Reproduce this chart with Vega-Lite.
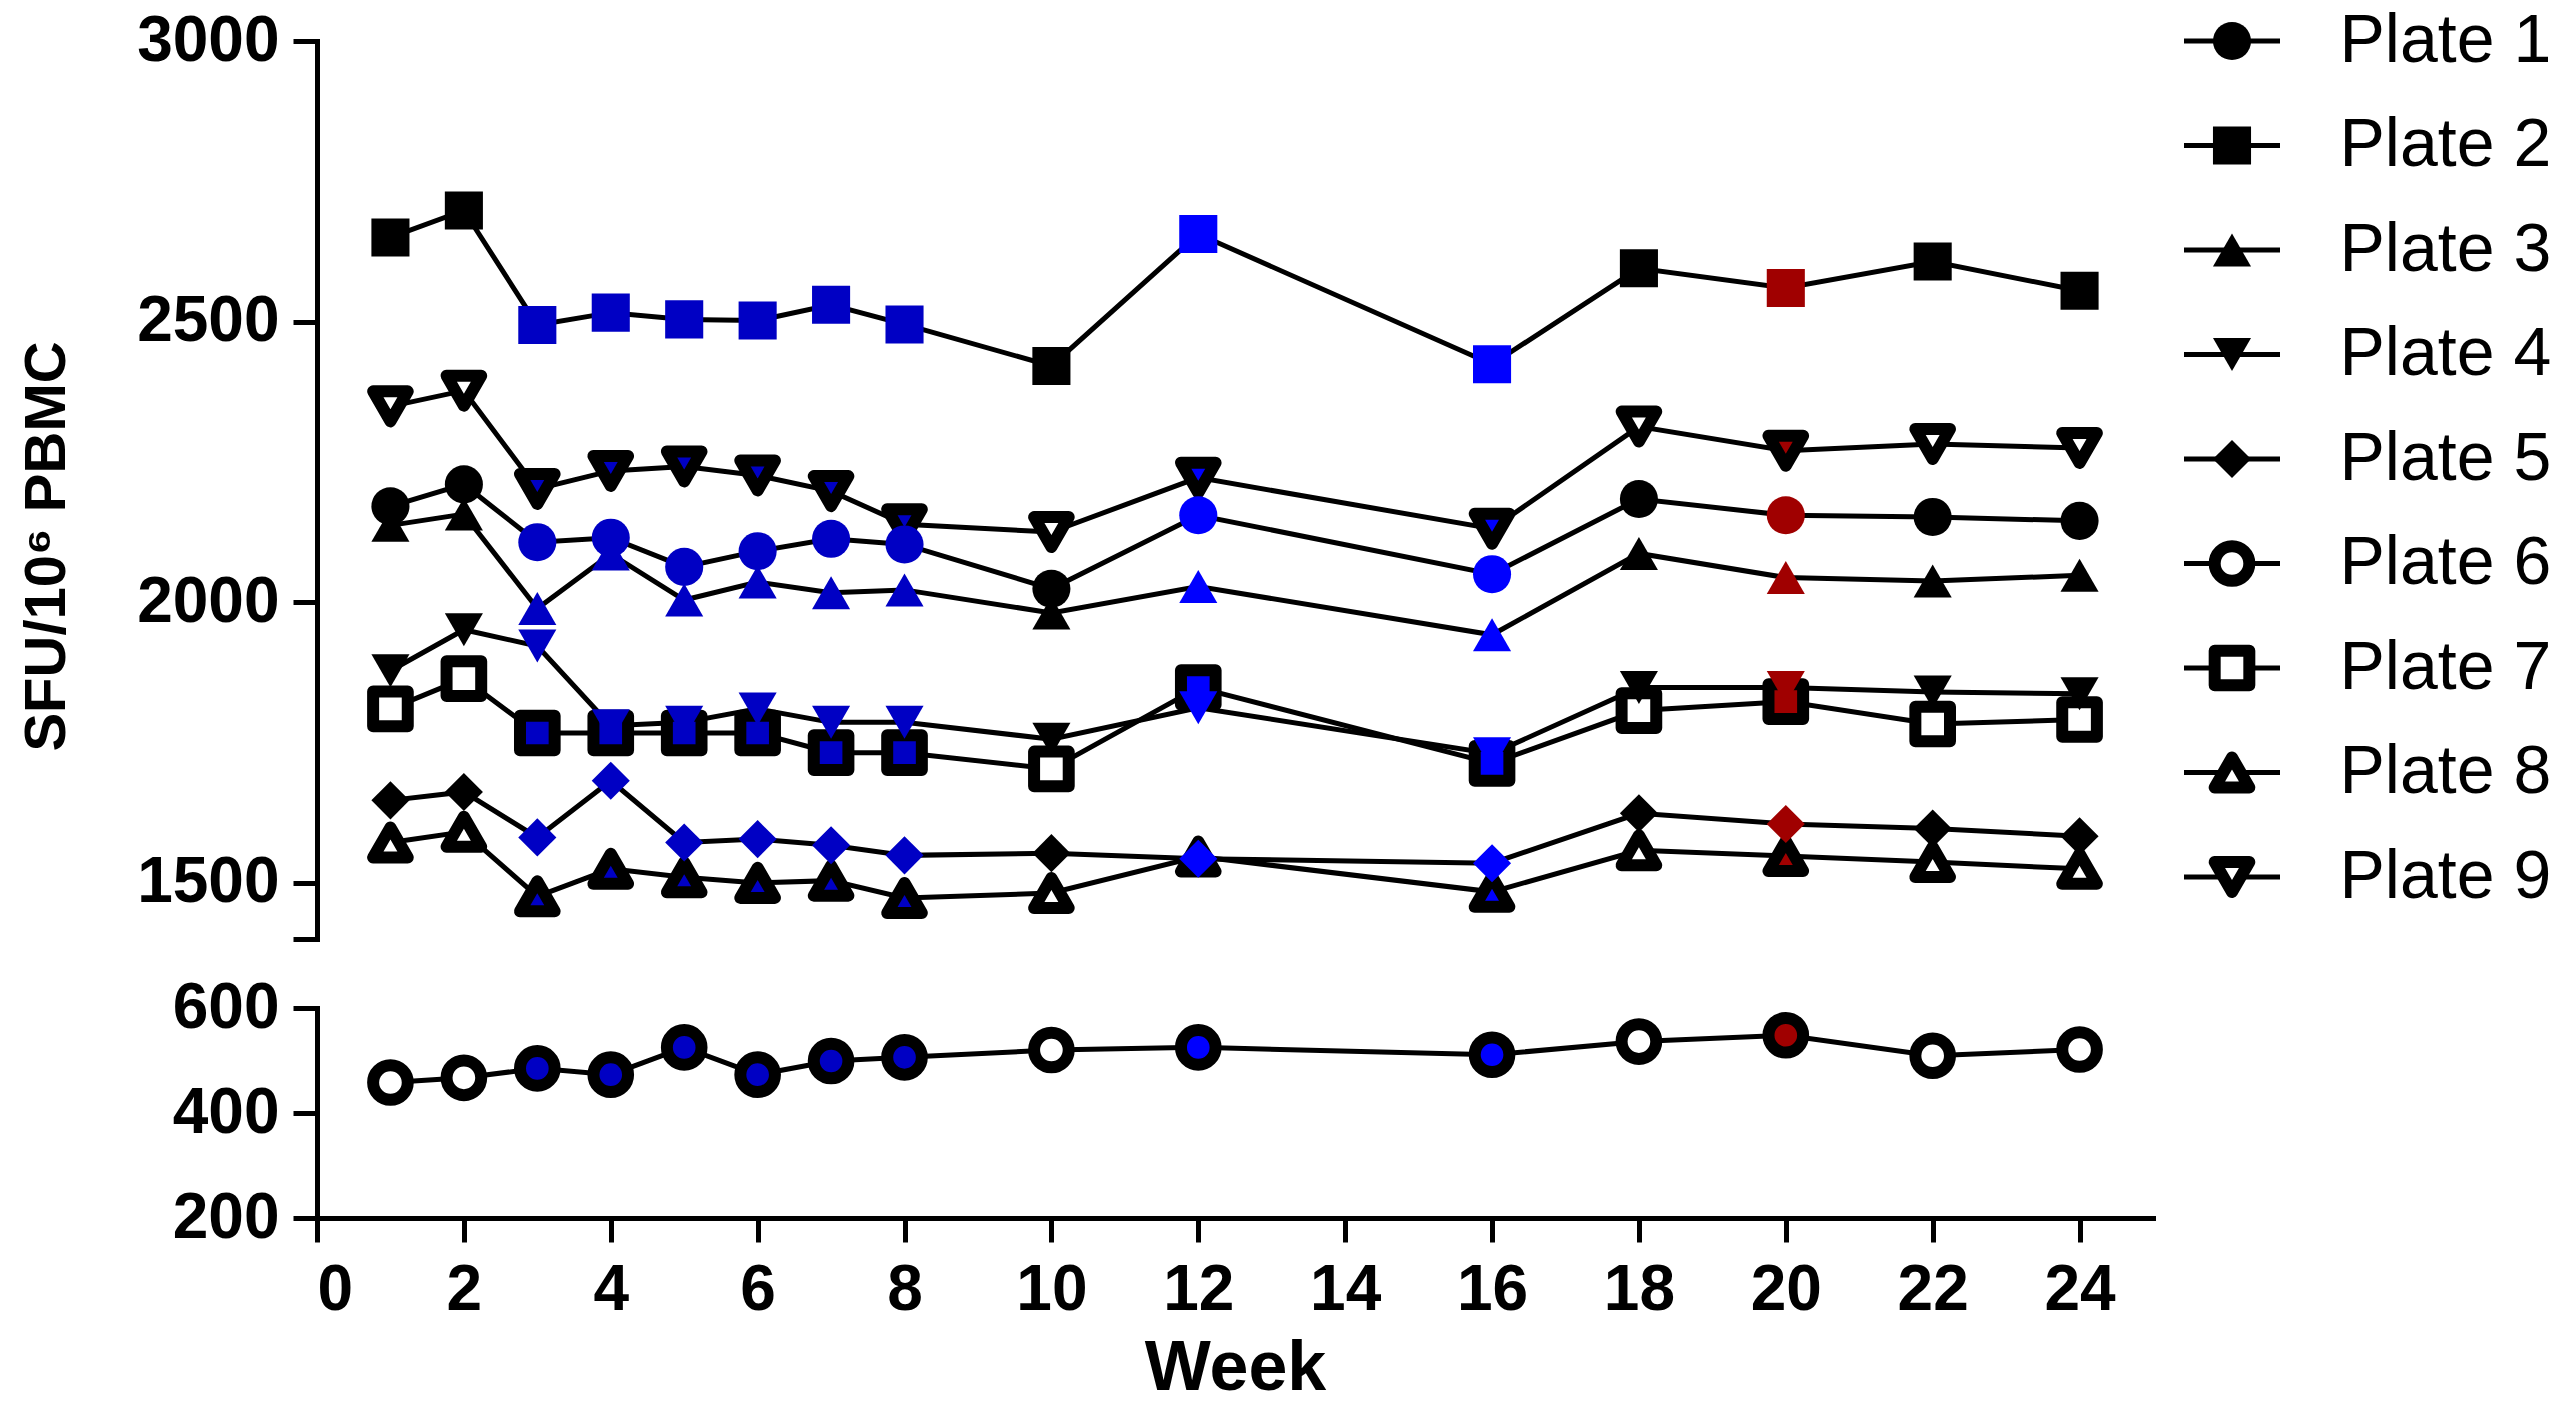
{
  "$schema": "https://vega.github.io/schema/vega-lite/v6.json",
  "background": "white",
  "padding": {"left": 17, "top": 7, "right": 0, "bottom": 0},
  "config": {
    "view": {"stroke": null},
    "font": "Liberation Sans",
    "axis": {
      "grid": false,
      "domainColor": "black",
      "domainWidth": 5,
      "domainCap": "square",
      "tickColor": "black",
      "tickWidth": 5,
      "tickSize": 24,
      "labelColor": "black",
      "labelFont": "Liberation Sans",
      "labelFontWeight": "bold",
      "labelFontSize": 64,
      "labelLimit": 0,
      "titleColor": "black",
      "titleFont": "Liberation Sans",
      "titleFontWeight": "bold"
    }
  },
  "datasets": {
    "sfu": [
      {"plate": "Plate 9", "week": 1, "sfu": 2349}, {"plate": "Plate 9", "week": 2, "sfu": 2377}, {"plate": "Plate 9", "week": 3, "sfu": 2202},
      {"plate": "Plate 9", "week": 4, "sfu": 2234}, {"plate": "Plate 9", "week": 5, "sfu": 2242}, {"plate": "Plate 9", "week": 6, "sfu": 2226},
      {"plate": "Plate 9", "week": 7, "sfu": 2198}, {"plate": "Plate 9", "week": 8, "sfu": 2139}, {"plate": "Plate 9", "week": 10, "sfu": 2125},
      {"plate": "Plate 9", "week": 12, "sfu": 2222}, {"plate": "Plate 9", "week": 16, "sfu": 2131}, {"plate": "Plate 9", "week": 18, "sfu": 2313},
      {"plate": "Plate 9", "week": 20, "sfu": 2270}, {"plate": "Plate 9", "week": 22, "sfu": 2282}, {"plate": "Plate 9", "week": 24, "sfu": 2275},
      {"plate": "Plate 8", "week": 1, "sfu": 1572}, {"plate": "Plate 8", "week": 2, "sfu": 1591}, {"plate": "Plate 8", "week": 3, "sfu": 1476},
      {"plate": "Plate 8", "week": 4, "sfu": 1525}, {"plate": "Plate 8", "week": 5, "sfu": 1510}, {"plate": "Plate 8", "week": 6, "sfu": 1500},
      {"plate": "Plate 8", "week": 7, "sfu": 1504}, {"plate": "Plate 8", "week": 8, "sfu": 1473}, {"plate": "Plate 8", "week": 10, "sfu": 1482},
      {"plate": "Plate 8", "week": 12, "sfu": 1547}, {"plate": "Plate 8", "week": 16, "sfu": 1484}, {"plate": "Plate 8", "week": 18, "sfu": 1558},
      {"plate": "Plate 8", "week": 20, "sfu": 1548}, {"plate": "Plate 8", "week": 22, "sfu": 1537}, {"plate": "Plate 8", "week": 24, "sfu": 1525},
      {"plate": "Plate 7", "week": 1, "sfu": 1810}, {"plate": "Plate 7", "week": 2, "sfu": 1864}, {"plate": "Plate 7", "week": 3, "sfu": 1767},
      {"plate": "Plate 7", "week": 4, "sfu": 1767}, {"plate": "Plate 7", "week": 5, "sfu": 1767}, {"plate": "Plate 7", "week": 6, "sfu": 1767},
      {"plate": "Plate 7", "week": 7, "sfu": 1732}, {"plate": "Plate 7", "week": 8, "sfu": 1732}, {"plate": "Plate 7", "week": 10, "sfu": 1703},
      {"plate": "Plate 7", "week": 12, "sfu": 1848}, {"plate": "Plate 7", "week": 16, "sfu": 1713}, {"plate": "Plate 7", "week": 18, "sfu": 1807},
      {"plate": "Plate 7", "week": 20, "sfu": 1823}, {"plate": "Plate 7", "week": 22, "sfu": 1783}, {"plate": "Plate 7", "week": 24, "sfu": 1791},
      {"plate": "Plate 6", "week": 1, "sfu": 458}, {"plate": "Plate 6", "week": 2, "sfu": 467}, {"plate": "Plate 6", "week": 3, "sfu": 485},
      {"plate": "Plate 6", "week": 4, "sfu": 473}, {"plate": "Plate 6", "week": 5, "sfu": 525}, {"plate": "Plate 6", "week": 6, "sfu": 473},
      {"plate": "Plate 6", "week": 7, "sfu": 499}, {"plate": "Plate 6", "week": 8, "sfu": 506}, {"plate": "Plate 6", "week": 10, "sfu": 520},
      {"plate": "Plate 6", "week": 12, "sfu": 525}, {"plate": "Plate 6", "week": 16, "sfu": 511}, {"plate": "Plate 6", "week": 18, "sfu": 536},
      {"plate": "Plate 6", "week": 20, "sfu": 548}, {"plate": "Plate 6", "week": 22, "sfu": 509}, {"plate": "Plate 6", "week": 24, "sfu": 521},
      {"plate": "Plate 5", "week": 1, "sfu": 1647}, {"plate": "Plate 5", "week": 2, "sfu": 1662}, {"plate": "Plate 5", "week": 3, "sfu": 1581},
      {"plate": "Plate 5", "week": 4, "sfu": 1682}, {"plate": "Plate 5", "week": 5, "sfu": 1572}, {"plate": "Plate 5", "week": 6, "sfu": 1578},
      {"plate": "Plate 5", "week": 7, "sfu": 1567}, {"plate": "Plate 5", "week": 8, "sfu": 1549}, {"plate": "Plate 5", "week": 10, "sfu": 1553},
      {"plate": "Plate 5", "week": 12, "sfu": 1543}, {"plate": "Plate 5", "week": 16, "sfu": 1535}, {"plate": "Plate 5", "week": 18, "sfu": 1624},
      {"plate": "Plate 5", "week": 20, "sfu": 1605}, {"plate": "Plate 5", "week": 22, "sfu": 1597}, {"plate": "Plate 5", "week": 24, "sfu": 1583},
      {"plate": "Plate 4", "week": 1, "sfu": 1878}, {"plate": "Plate 4", "week": 2, "sfu": 1951}, {"plate": "Plate 4", "week": 3, "sfu": 1922},
      {"plate": "Plate 4", "week": 4, "sfu": 1780}, {"plate": "Plate 4", "week": 5, "sfu": 1786}, {"plate": "Plate 4", "week": 6, "sfu": 1810},
      {"plate": "Plate 4", "week": 7, "sfu": 1786}, {"plate": "Plate 4", "week": 8, "sfu": 1786}, {"plate": "Plate 4", "week": 10, "sfu": 1756},
      {"plate": "Plate 4", "week": 12, "sfu": 1812}, {"plate": "Plate 4", "week": 16, "sfu": 1730}, {"plate": "Plate 4", "week": 18, "sfu": 1848},
      {"plate": "Plate 4", "week": 20, "sfu": 1848}, {"plate": "Plate 4", "week": 22, "sfu": 1840}, {"plate": "Plate 4", "week": 24, "sfu": 1837},
      {"plate": "Plate 3", "week": 1, "sfu": 2137}, {"plate": "Plate 3", "week": 2, "sfu": 2157}, {"plate": "Plate 3", "week": 3, "sfu": 1989},
      {"plate": "Plate 3", "week": 4, "sfu": 2086}, {"plate": "Plate 3", "week": 5, "sfu": 2004}, {"plate": "Plate 3", "week": 6, "sfu": 2036},
      {"plate": "Plate 3", "week": 7, "sfu": 2017}, {"plate": "Plate 3", "week": 8, "sfu": 2022}, {"plate": "Plate 3", "week": 10, "sfu": 1981},
      {"plate": "Plate 3", "week": 12, "sfu": 2028}, {"plate": "Plate 3", "week": 16, "sfu": 1942}, {"plate": "Plate 3", "week": 18, "sfu": 2087},
      {"plate": "Plate 3", "week": 20, "sfu": 2044}, {"plate": "Plate 3", "week": 22, "sfu": 2038}, {"plate": "Plate 3", "week": 24, "sfu": 2048},
      {"plate": "Plate 2", "week": 1, "sfu": 2650}, {"plate": "Plate 2", "week": 2, "sfu": 2698}, {"plate": "Plate 2", "week": 3, "sfu": 2494},
      {"plate": "Plate 2", "week": 4, "sfu": 2516}, {"plate": "Plate 2", "week": 5, "sfu": 2504}, {"plate": "Plate 2", "week": 6, "sfu": 2502},
      {"plate": "Plate 2", "week": 7, "sfu": 2530}, {"plate": "Plate 2", "week": 8, "sfu": 2495}, {"plate": "Plate 2", "week": 10, "sfu": 2421},
      {"plate": "Plate 2", "week": 12, "sfu": 2656}, {"plate": "Plate 2", "week": 16, "sfu": 2424}, {"plate": "Plate 2", "week": 18, "sfu": 2595},
      {"plate": "Plate 2", "week": 20, "sfu": 2560}, {"plate": "Plate 2", "week": 22, "sfu": 2607}, {"plate": "Plate 2", "week": 24, "sfu": 2555},
      {"plate": "Plate 1", "week": 1, "sfu": 2171}, {"plate": "Plate 1", "week": 2, "sfu": 2210}, {"plate": "Plate 1", "week": 3, "sfu": 2107},
      {"plate": "Plate 1", "week": 4, "sfu": 2115}, {"plate": "Plate 1", "week": 5, "sfu": 2063}, {"plate": "Plate 1", "week": 6, "sfu": 2091},
      {"plate": "Plate 1", "week": 7, "sfu": 2113}, {"plate": "Plate 1", "week": 8, "sfu": 2103}, {"plate": "Plate 1", "week": 10, "sfu": 2024},
      {"plate": "Plate 1", "week": 12, "sfu": 2155}, {"plate": "Plate 1", "week": 16, "sfu": 2050}, {"plate": "Plate 1", "week": 18, "sfu": 2184},
      {"plate": "Plate 1", "week": 20, "sfu": 2155}, {"plate": "Plate 1", "week": 22, "sfu": 2152}, {"plate": "Plate 1", "week": 24, "sfu": 2145}
    ],
    "plates": [
      {"plate": "Plate 1"}, {"plate": "Plate 2"}, {"plate": "Plate 3"}, {"plate": "Plate 4"}, {"plate": "Plate 5"},
      {"plate": "Plate 6"}, {"plate": "Plate 7"}, {"plate": "Plate 8"}, {"plate": "Plate 9"}
    ]
  },
  "spacing": 28,
  "hconcat": [
    {
      "spacing": 69,
      "bounds": "flush",
      "vconcat": [
        {
          "width": 1836,
          "height": 898,
          "data": {"name": "sfu"},
          "transform": [{"filter": "datum.plate != 'Plate 6'"}],
          "layer": [
            {
              "mark": {"type": "line", "color": "black", "strokeWidth": 5},
              "encoding": {
                "x": {"field": "week", "type": "quantitative", "scale": {"domain": [0, 25], "nice": false}, "axis": null},
                "y": {
                  "field": "sfu", "type": "quantitative",
                  "scale": {"domain": [1400, 3000], "nice": false, "zero": false},
                  "axis": {
                    "values": [1400, 1500, 2000, 2500, 3000],
                    "format": "d",
                    "labelExpr": "datum.value == 1400 ? '' : datum.label",
                    "labelPadding": 14,
                    "title": "SFU/10⁶ PBMC",
                    "titleFontSize": 58,
                    "titleAngle": -90,
                    "titleX": -270,
                    "titleY": 505,
                    "titleAlign": "center",
                    "titleBaseline": "middle"
                  }
                },
                "detail": {"field": "plate"}
              }
            },
            {
              "mark": {"type": "point", "filled": true, "opacity": 1, "strokeJoin": "round"},
              "encoding": {
                "x": {"field": "week", "type": "quantitative"},
                "y": {"field": "sfu", "type": "quantitative"},
                "shape": {
                  "field": "plate", "type": "nominal", "legend": null,
                  "scale": {
                    "domain": ["Plate 1", "Plate 2", "Plate 3", "Plate 4", "Plate 5", "Plate 6", "Plate 7", "Plate 8", "Plate 9"],
                    "range": ["circle", "square", "triangle-up", "triangle-down", "diamond", "circle", "square", "triangle-up", "triangle-down"]
                  }
                },
                "fill": {
                  "condition": [
                    {"test": "datum.week >= 3 && datum.week <= 8", "value": "#0000c4"},
                    {"test": "datum.week == 12 || datum.week == 16", "value": "#0000ff"},
                    {"test": "datum.week == 20", "value": "#a00000"},
                    {"test": "datum.plate == 'Plate 6' || datum.plate == 'Plate 7' || datum.plate == 'Plate 8' || datum.plate == 'Plate 9'", "value": "white"}
                  ],
                  "value": "black"
                },
                "stroke": {
                  "condition": {"test": "datum.plate == 'Plate 6' || datum.plate == 'Plate 7' || datum.plate == 'Plate 8' || datum.plate == 'Plate 9'", "value": "black"},
                  "value": "transparent"
                },
                "size": {
                  "condition": {"test": "datum.plate == 'Plate 6' || datum.plate == 'Plate 7' || datum.plate == 'Plate 8' || datum.plate == 'Plate 9'", "value": 1200},
                  "value": 1450
                },
                "strokeWidth": {"value": 12}
              }
            }
          ]
        },
        {
          "width": 1836,
          "height": 210,
          "data": {"name": "sfu"},
          "transform": [{"filter": "datum.plate == 'Plate 6'"}],
          "layer": [
            {
              "mark": {"type": "line", "color": "black", "strokeWidth": 5},
              "encoding": {
                "x": {
                  "field": "week", "type": "quantitative",
                  "scale": {"domain": [0, 25], "nice": false},
                  "axis": {
                    "values": [0, 2, 4, 6, 8, 10, 12, 14, 16, 18, 20, 22, 24],
                    "format": "d",
                    "labelPadding": 16,
                    "title": "Week",
                    "titleFontSize": 70,
                    "titlePadding": 12
                  }
                },
                "y": {
                  "field": "sfu", "type": "quantitative",
                  "scale": {"domain": [200, 600], "nice": false, "zero": false},
                  "axis": {"values": [200, 400, 600], "format": "d", "labelPadding": 14, "title": null}
                },
                "detail": {"field": "plate"}
              }
            },
            {
              "mark": {"type": "point", "filled": true, "opacity": 1, "strokeJoin": "round"},
              "encoding": {
                "x": {"field": "week", "type": "quantitative"},
                "y": {"field": "sfu", "type": "quantitative"},
                "shape": {
                  "field": "plate", "type": "nominal", "legend": null,
                  "scale": {
                    "domain": ["Plate 1", "Plate 2", "Plate 3", "Plate 4", "Plate 5", "Plate 6", "Plate 7", "Plate 8", "Plate 9"],
                    "range": ["circle", "square", "triangle-up", "triangle-down", "diamond", "circle", "square", "triangle-up", "triangle-down"]
                  }
                },
                "fill": {
                  "condition": [
                    {"test": "datum.week >= 3 && datum.week <= 8", "value": "#0000c4"},
                    {"test": "datum.week == 12 || datum.week == 16", "value": "#0000ff"},
                    {"test": "datum.week == 20", "value": "#a00000"},
                    {"test": "datum.plate == 'Plate 6' || datum.plate == 'Plate 7' || datum.plate == 'Plate 8' || datum.plate == 'Plate 9'", "value": "white"}
                  ],
                  "value": "black"
                },
                "stroke": {
                  "condition": {"test": "datum.plate == 'Plate 6' || datum.plate == 'Plate 7' || datum.plate == 'Plate 8' || datum.plate == 'Plate 9'", "value": "black"},
                  "value": "transparent"
                },
                "size": {
                  "condition": {"test": "datum.plate == 'Plate 6' || datum.plate == 'Plate 7' || datum.plate == 'Plate 8' || datum.plate == 'Plate 9'", "value": 1200},
                  "value": 1450
                },
                "strokeWidth": {"value": 12}
              }
            }
          ]
        }
      ]
    },
    {
      "width": 96,
      "height": 836,
      "data": {"name": "plates"},
      "layer": [
        {
          "mark": {"type": "rule", "color": "black", "strokeWidth": 5},
          "encoding": {
            "x": {"datum": 0, "type": "quantitative", "scale": {"domain": [0, 1], "nice": false}, "axis": null},
            "x2": {"datum": 1},
            "y": {
              "field": "plate", "type": "ordinal",
              "scale": {"type": "point", "padding": 0, "domain": ["Plate 1", "Plate 2", "Plate 3", "Plate 4", "Plate 5", "Plate 6", "Plate 7", "Plate 8", "Plate 9"]},
              "axis": {
                "orient": "right", "domain": false, "ticks": false, "title": null,
                "labelPadding": 59, "labelFontSize": 68, "labelFontWeight": "normal"
              }
            }
          }
        },
        {
          "mark": {"type": "point", "filled": true, "opacity": 1, "strokeJoin": "round"},
          "encoding": {
            "x": {"datum": 0.5, "type": "quantitative"},
            "y": {"field": "plate", "type": "ordinal"},
            "shape": {
              "field": "plate", "type": "nominal", "legend": null,
              "scale": {
                "domain": ["Plate 1", "Plate 2", "Plate 3", "Plate 4", "Plate 5", "Plate 6", "Plate 7", "Plate 8", "Plate 9"],
                "range": ["circle", "square", "triangle-up", "triangle-down", "diamond", "circle", "square", "triangle-up", "triangle-down"]
              }
            },
            "fill": {
              "condition": {"test": "datum.plate == 'Plate 6' || datum.plate == 'Plate 7' || datum.plate == 'Plate 8' || datum.plate == 'Plate 9'", "value": "white"},
              "value": "black"
            },
            "stroke": {
              "condition": {"test": "datum.plate == 'Plate 6' || datum.plate == 'Plate 7' || datum.plate == 'Plate 8' || datum.plate == 'Plate 9'", "value": "black"},
              "value": "transparent"
            },
            "size": {
              "condition": {"test": "datum.plate == 'Plate 6' || datum.plate == 'Plate 7' || datum.plate == 'Plate 8' || datum.plate == 'Plate 9'", "value": 1200},
              "value": 1450
            },
            "strokeWidth": {"value": 12}
          }
        }
      ]
    }
  ]
}
